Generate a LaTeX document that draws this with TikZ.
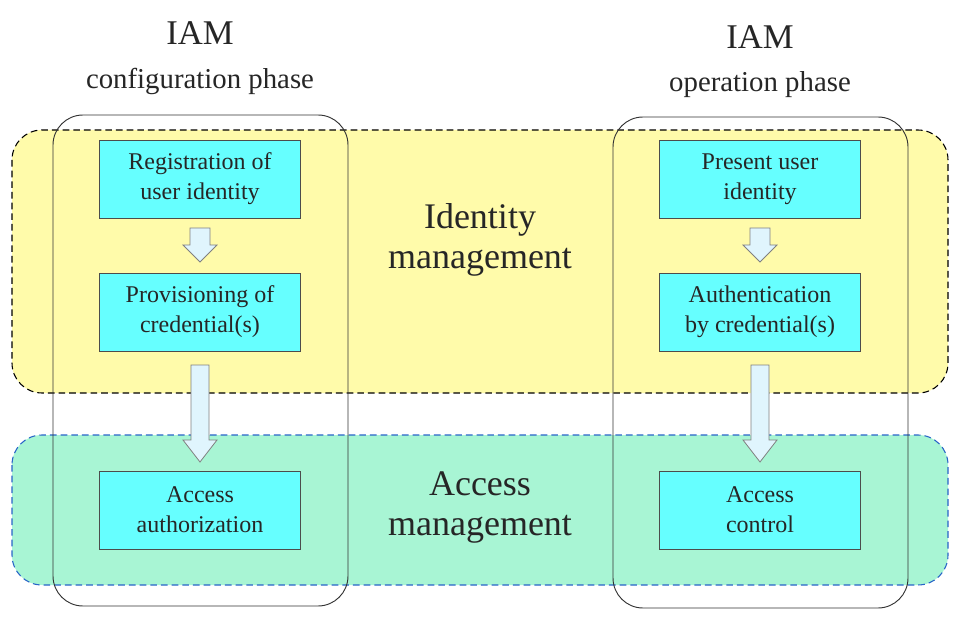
\documentclass[tikz,border=0pt]{standalone}
\usepackage{fontspec}
\setmainfont{Liberation Serif}
\begin{document}
\begin{tikzpicture}[x=0.75pt,y=-0.75pt,
 region/.style={rounded corners=22.5pt,dash pattern=on 5pt off 3pt,line width=0.8pt},
 col/.style={draw=black!80,rounded corners=22.5pt,line width=0.7pt},
 box/.style={draw=black!70,fill={rgb,255:red,102;green,255;blue,255},minimum width=151pt,minimum height=58.5pt,align=center,font=\fontsize{18}{22.5}\selectfont,text=black!85},
 arr/.style={draw=black!50,fill=cyan!12,line width=0.6pt},
 lbl/.style={align=center,text=black!85}]
\useasboundingbox (0,0) rectangle (960,620);
\fill[white] (0,0) rectangle (960,620);
\draw[region,fill={rgb,255:red,255;green,251;blue,170},draw=black] (12,130) rectangle (948,393);
\draw[region,fill={rgb,255:red,168;green,245;blue,212},draw={rgb,255:red,40;green,100;blue,200}] (12,435) rectangle (948,585);
\draw[col] (53,115) rectangle (348,606);
\draw[col] (613,117) rectangle (908,608);
\node[box] (r1) at (200,179) {Registration of\\user identity};
\node[box] (r2) at (200,312) {Provisioning of\\credential(s)};
\node[box] (r3) at (200,510) {Access\\authorization};
\node[box] (s1) at (760,179) {Present user\\identity};
\node[box] (s2) at (760,312) {Authentication\\by credential(s)};
\node[box] (s3) at (760,510) {Access\\control};
\foreach \x in {200,760}{
 \draw[arr] (\x-10,228) -- (\x+10,228) -- (\x+10,245) -- (\x+17,245) -- (\x,262) -- (\x-17,245) -- (\x-10,245) -- cycle;
 \draw[arr] (\x-9,365) -- (\x+9,365) -- (\x+9,440) -- (\x+17,440) -- (\x,462) -- (\x-17,440) -- (\x-9,440) -- cycle;
}
\node[lbl,font=\fontsize{26}{30}\selectfont] (t1) at (200,33) {IAM};
\node[lbl,font=\fontsize{21.6}{26}\selectfont] (p1) at (200,81) {configuration phase};
\node[lbl,font=\fontsize{26}{30}\selectfont] (t2) at (760,37) {IAM};
\node[lbl,font=\fontsize{21.6}{26}\selectfont] (p2) at (760,85) {operation phase};
\node[lbl,font=\fontsize{27}{30}\selectfont] (im) at (480,240) {Identity\\management};
\node[lbl,font=\fontsize{27}{30}\selectfont] (am) at (480,507) {Access\\management};
\end{tikzpicture}
\end{document}
